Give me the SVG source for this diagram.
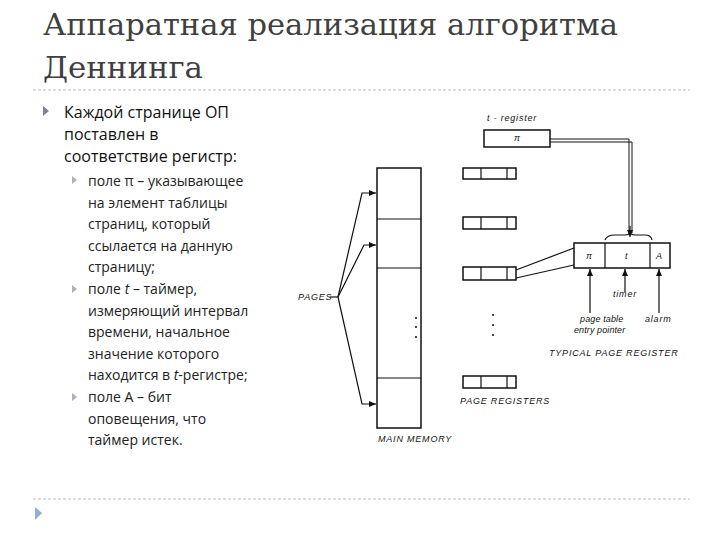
<svg xmlns="http://www.w3.org/2000/svg" width="720" height="540" viewBox="0 0 720 540">
<style>
.t{font-family:"DejaVu Serif","Liberation Serif",serif;font-size:29px;fill:#404040}
.b{font-family:"Open Sans","Liberation Sans",sans-serif;font-size:16px;fill:#111}
.s{font-family:"Open Sans","Liberation Sans",sans-serif;font-size:14px;fill:#222}
.d{font-family:"Liberation Sans",sans-serif;font-size:9px;font-style:italic;fill:#111;letter-spacing:0.8px}
.ln{stroke:#111;stroke-width:1.2;fill:none}
.bx{stroke:#111;stroke-width:1.5;fill:#fff}
.dash{stroke:#bbb;stroke-width:1;stroke-dasharray:3,2}
</style>
<defs>
<marker id="ah" markerWidth="8" markerHeight="8" refX="7" refY="4" orient="auto" markerUnits="userSpaceOnUse"><path d="M0,1 L7,4 L0,7 Z" fill="#111"/></marker>
</defs>
<rect width="720" height="540" fill="#fff"/>
<text class="t" x="43" y="35" textLength="575" lengthAdjust="spacingAndGlyphs">Аппаратная реализация алгоритма</text>
<text class="t" x="43" y="78" textLength="160" lengthAdjust="spacingAndGlyphs">Деннинга</text>
<line class="dash" x1="33" y1="90" x2="690" y2="90"/>
<line class="dash" x1="33" y1="499" x2="690" y2="499"/>
<path d="M35,507 L42,513 L35,520Z" fill="#8fb0d0"/>
<g id="text">
<path d="M43,106 L49,111 L43,116Z" fill="#7f7f9f"/>
<text class="b" x="64" y="118">Каждой странице ОП</text>
<text class="b" x="64" y="140">поставлен в</text>
<text class="b" x="64" y="162">соответствие регистр:</text>
<g fill="#b0b0c0"><path d="M72,176 L77,180 L72,184Z"/><path d="M72,285 L77,289 L72,293Z"/><path d="M72,393 L77,397 L72,401Z"/></g>
<text class="s" x="88" y="186">поле π – указывающее</text>
<text class="s" x="88" y="208">на элемент таблицы</text>
<text class="s" x="88" y="229">страниц, который</text>
<text class="s" x="88" y="251">ссылается на данную</text>
<text class="s" x="88" y="272">страницу;</text>
<text class="s" x="88" y="294">поле <tspan font-style="italic">t</tspan> – таймер,</text>
<text class="s" x="88" y="316">измеряющий интервал</text>
<text class="s" x="88" y="337">времени, начальное</text>
<text class="s" x="88" y="359">значение которого</text>
<text class="s" x="88" y="380">находится в <tspan font-style="italic">t</tspan>-регистре;</text>
<text class="s" x="88" y="402">поле А – бит</text>
<text class="s" x="88" y="424">оповещения, что</text>
<text class="s" x="88" y="445">таймер истек.</text>
</g>
<g id="main-memory">
<rect class="bx" x="377" y="168" width="44" height="260"/>
<line class="ln" x1="377" y1="219" x2="421" y2="219" stroke-width="1.5"/>
<line class="ln" x1="377" y1="268" x2="421" y2="268"/>
<line class="ln" x1="377" y1="378" x2="421" y2="378" stroke-width="1.5"/>
<g fill="#111"><circle cx="416" cy="318" r="1"/><circle cx="416" cy="327" r="1"/><circle cx="416" cy="337" r="1"/></g>
<text class="d" x="378" y="442">MAIN  MEMORY</text>
</g>
<g id="page-registers">
<g class="bx"><rect x="463" y="168" width="53" height="11"/><rect x="463" y="217" width="53" height="12"/><rect x="463" y="267" width="53" height="13"/><rect x="463" y="376" width="53" height="12"/></g>
<g class="ln"><path d="M481,168V179M507,168V179M481,217V229M507,217V229M481,267V280M507,267V280M481,376V388M507,376V388"/></g>
<g fill="#111"><circle cx="493" cy="315" r="1"/><circle cx="493" cy="325" r="1"/><circle cx="493" cy="335" r="1"/></g>
<text class="d" x="460" y="404">PAGE  REGISTERS</text>
</g>
<g id="t-register">
<text class="d" x="487" y="121">t - register</text>
<rect class="bx" x="484" y="130" width="66" height="17"/>
<text class="d" x="514" y="141" font-style="normal">π</text>
</g>
<g id="typical-register">
<rect class="bx" x="574" y="243" width="96" height="25"/>
<line class="ln" x1="605" y1="243" x2="605" y2="268"/>
<line class="ln" x1="650" y1="243" x2="650" y2="268" stroke-width="1.5"/>
<text class="d" x="586" y="259" font-style="normal">π</text>
<text class="d" x="625" y="259">t</text>
<text class="d" x="656" y="259" font-style="normal">A</text>
<text class="d" x="613" y="297">timer</text>
<text class="d" x="580" y="322" textLength="44" lengthAdjust="spacing">page  table</text>
<text class="d" x="574" y="333" textLength="52" lengthAdjust="spacing">entry  pointer</text>
<text class="d" x="645" y="322">alarm</text>
<text class="d" x="549" y="356" font-style="normal">TYPICAL  PAGE  REGISTER</text>
</g>
<g id="pages-label"><text class="d" x="298" y="300" font-style="normal">PAGES</text></g>
<g id="connectors" class="ln">
<path d="M550,139 H629 V233" stroke-width="1"/>
<path d="M550,142 H632 V233" stroke-width="1"/>
<path d="M630,226 V237" marker-end="url(#ah)"/>
<path d="M605,240 Q607,235 615,235 H625 Q630,235 630,231 Q630,235 635,235 H645 Q651,235 652,240"/>
<path d="M516,270 L574,248"/>
<path d="M516,278 L574,265"/>
<path d="M590,313 V269" marker-end="url(#ah)"/>
<path d="M625,292 V269" marker-end="url(#ah)"/>
<path d="M659,313 V269" marker-end="url(#ah)"/>
<path d="M330,297 H338"/>
<path d="M338,297 L362,193 H376" marker-end="url(#ah)"/>
<path d="M338,297 L364,245 H376" marker-end="url(#ah)"/>
<path d="M338,297 L362,404 H376" marker-end="url(#ah)"/>
</g>
</svg>
